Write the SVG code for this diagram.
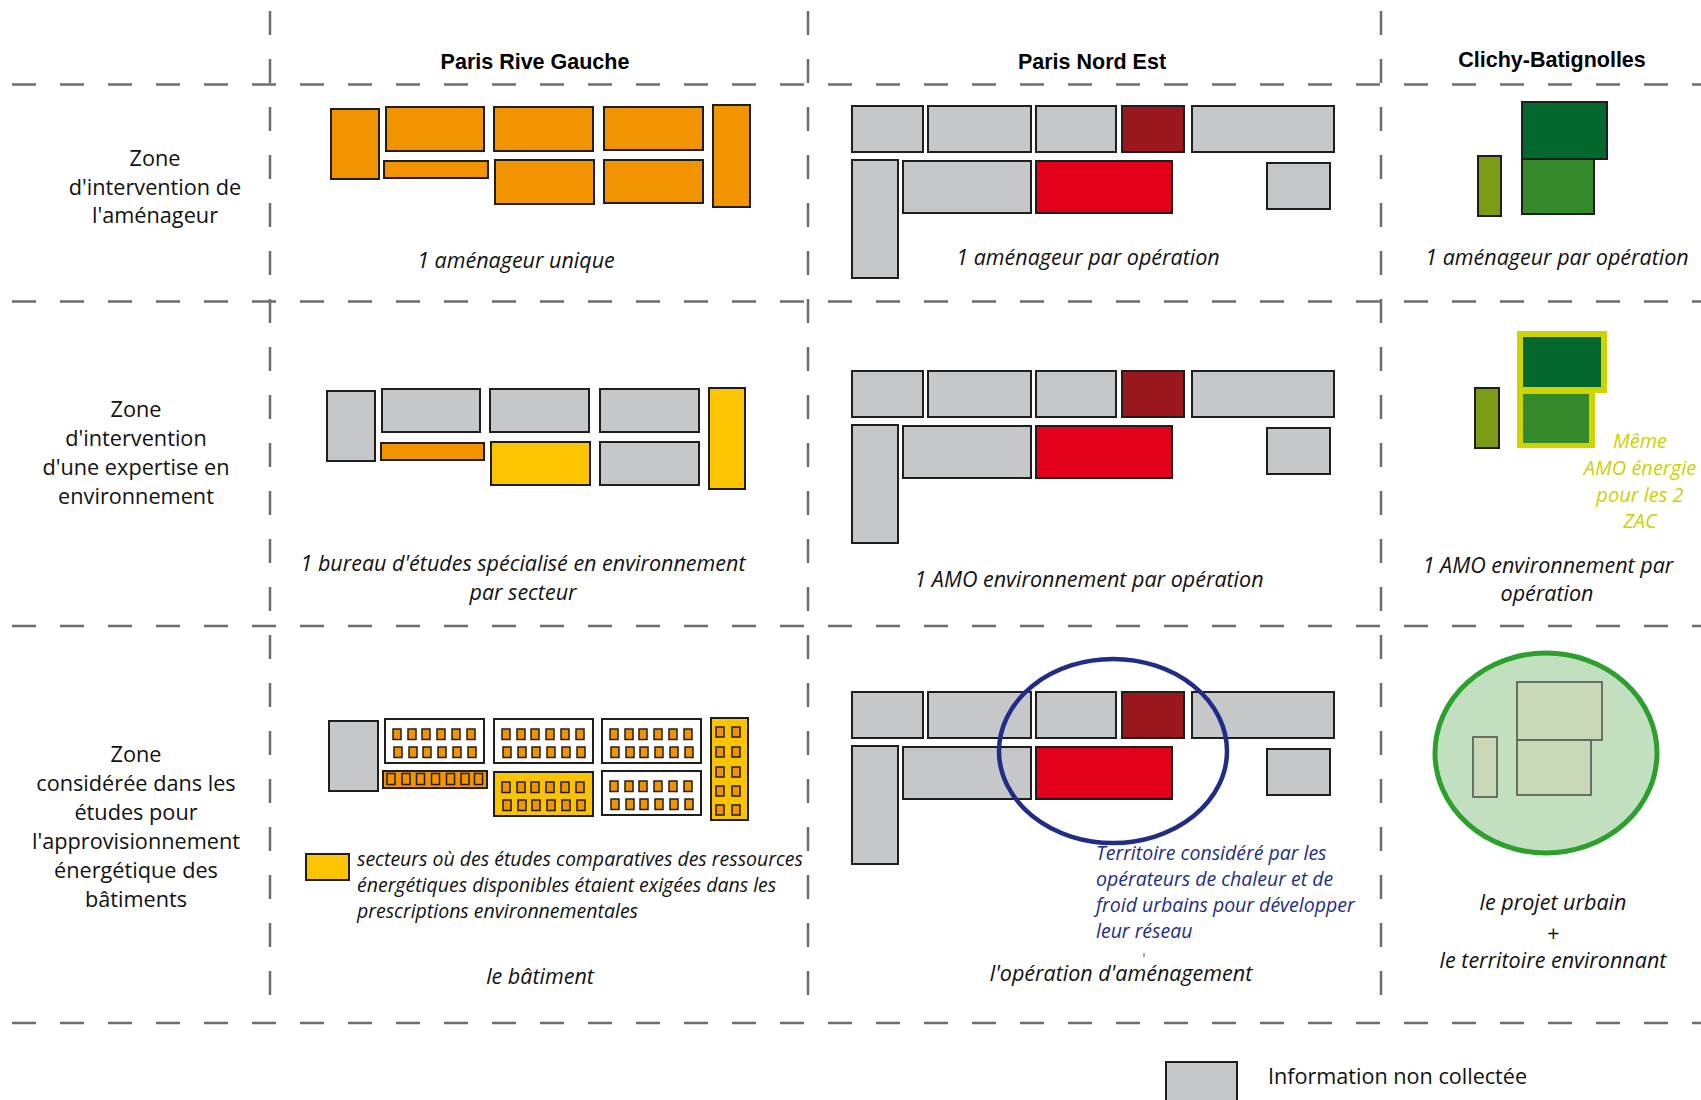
<svg xmlns="http://www.w3.org/2000/svg" width="1701" height="1100" viewBox="0 0 1701 1100">
<style>
.g{fill:none;stroke:#6e6e6e;stroke-width:2.5;stroke-dasharray:24 24}
.b{stroke:#1e1e1e;stroke-width:2}
.gr{fill:#c6c7c9}
.or{fill:#f29400}
.ye{fill:#fbc300}
.dr{fill:#9a171d}
.rd{fill:#e2001a}
.wh{fill:#ffffff}
.sq{fill:#f29400;stroke:#1e1e1e;stroke-width:1.5}
.dg{fill:#03682e}
.mg{fill:#348a2b}
.ol{fill:#7b9b15}
.h{font-family:"Liberation Sans",Arial,sans-serif;font-weight:bold;font-size:21.5px;fill:#000;text-anchor:middle}
.l{font-family:"Open Sans","Liberation Sans",sans-serif;font-size:21.7px;fill:#111;text-anchor:middle}
.i{font-family:"Open Sans","Liberation Sans",sans-serif;font-style:italic;font-size:21.5px;fill:#111;text-anchor:middle}
.il{font-family:"Open Sans","Liberation Sans",sans-serif;font-style:italic;font-size:19.5px;fill:#111}
.bl{font-family:"Open Sans","Liberation Sans",sans-serif;font-style:italic;font-size:19.5px;fill:#1f2d86}
.yl{font-family:"Open Sans","Liberation Sans",sans-serif;font-style:italic;font-size:20px;fill:#cdd100;text-anchor:middle}
.cl{fill:#c9d8b7;stroke:#5d665a;stroke-width:1.8}
</style>
<rect width="1701" height="1100" fill="#ffffff"/>
<g id="grid">
<line class="g" x1="12" y1="84.5" x2="1701" y2="84.5"/>
<line class="g" x1="12" y1="301.5" x2="1701" y2="301.5"/>
<line class="g" x1="12" y1="626" x2="1701" y2="626"/>
<line class="g" x1="12" y1="1023" x2="1701" y2="1023"/>
<line class="g" x1="270" y1="11" x2="270" y2="995"/>
<line class="g" x1="808" y1="11" x2="808" y2="995"/>
<line class="g" x1="1381" y1="11" x2="1381" y2="995"/>
</g>
<g id="headers">
<text class="h" x="535" y="69">Paris Rive Gauche</text>
<text class="h" x="1092" y="69">Paris Nord Est</text>
<text class="h" x="1552" y="67">Clichy-Batignolles</text>
</g>
<g id="row-labels">
<text class="l" x="155" y="166">Zone</text>
<text class="l" x="155" y="195">d'intervention de</text>
<text class="l" x="155" y="223">l'aménageur</text>
<text class="l" x="136" y="417">Zone</text>
<text class="l" x="136" y="446">d'intervention</text>
<text class="l" x="136" y="475">d'une expertise en</text>
<text class="l" x="136" y="504">environnement</text>
<text class="l" x="136" y="762">Zone</text>
<text class="l" x="136" y="791">considérée dans les</text>
<text class="l" x="136" y="820">études pour</text>
<text class="l" x="136" y="849">l'approvisionnement</text>
<text class="l" x="136" y="878">énergétique des</text>
<text class="l" x="136" y="907">bâtiments</text>
</g>
<g id="prg-amenageur">
<rect class="or b" x="331" y="109" width="48" height="70"/>
<rect class="or b" x="386" y="107" width="98" height="44"/>
<rect class="or b" x="494" y="107" width="99" height="44"/>
<rect class="or b" x="604" y="107" width="99" height="43"/>
<rect class="or b" x="713" y="105" width="37" height="102"/>
<rect class="or b" x="384" y="161" width="104" height="17"/>
<rect class="or b" x="495" y="160" width="99" height="44"/>
<rect class="or b" x="604" y="160" width="99" height="43"/>
<text class="i" x="516" y="268">1 aménageur unique</text>
</g>
<g id="pne-amenageur">
<rect class="gr b" x="852" y="106" width="71" height="46"/>
<rect class="gr b" x="928" y="106" width="103" height="46"/>
<rect class="gr b" x="1036" y="106" width="80" height="46"/>
<rect class="dr b" x="1122" y="106" width="62" height="46"/>
<rect class="gr b" x="1192" y="106" width="142" height="46"/>
<rect class="gr b" x="852" y="160" width="46" height="118"/>
<rect class="gr b" x="903" y="161" width="128" height="52"/>
<rect class="rd b" x="1036" y="161" width="136" height="52"/>
<rect class="gr b" x="1267" y="163" width="63" height="46"/>
<text class="i" x="1088" y="265">1 aménageur par opération</text>
</g>
<g id="cb-amenageur">
<rect class="dg b" x="1522" y="102" width="85" height="57"/>
<rect class="mg b" x="1522" y="159" width="72" height="55"/>
<rect class="ol b" x="1478" y="156" width="23" height="60"/>
<text class="i" x="1557" y="265">1 aménageur par opération</text>
</g>
<g id="prg-expertise">
<rect class="gr b" x="327" y="391" width="48" height="70"/>
<rect class="gr b" x="382" y="389" width="98" height="43"/>
<rect class="gr b" x="490" y="389" width="99" height="43"/>
<rect class="gr b" x="600" y="389" width="99" height="43"/>
<rect class="ye b" x="709" y="388" width="36" height="101"/>
<rect class="or b" x="381" y="443" width="103" height="17"/>
<rect class="ye b" x="491" y="442" width="99" height="43"/>
<rect class="gr b" x="600" y="442" width="99" height="43"/>
<text class="i" x="523" y="571">1 bureau d'études spécialisé en environnement</text>
<text class="i" x="523" y="600">par secteur</text>
</g>
<g id="pne-expertise" transform="translate(0,265)">
<rect class="gr b" x="852" y="106" width="71" height="46"/>
<rect class="gr b" x="928" y="106" width="103" height="46"/>
<rect class="gr b" x="1036" y="106" width="80" height="46"/>
<rect class="dr b" x="1122" y="106" width="62" height="46"/>
<rect class="gr b" x="1192" y="106" width="142" height="46"/>
<rect class="gr b" x="852" y="160" width="46" height="118"/>
<rect class="gr b" x="903" y="161" width="128" height="52"/>
<rect class="rd b" x="1036" y="161" width="136" height="52"/>
<rect class="gr b" x="1267" y="163" width="63" height="46"/>
<text class="i" x="1089" y="322">1 AMO environnement par opération</text>
</g>
<g id="cb-expertise">
<polygon points="1517,331 1607,331 1607,393 1595,393 1595,448 1517,448" fill="#cfd300"/>
<rect class="dg" x="1523" y="337" width="78" height="50"/>
<rect class="mg" x="1523" y="394" width="66" height="49"/>
<rect class="ol b" x="1475" y="388" width="24" height="60"/>
<text class="yl" x="1640" y="448">Même</text>
<text class="yl" x="1640" y="475">AMO énergie</text>
<text class="yl" x="1640" y="502">pour les 2</text>
<text class="yl" x="1640" y="528">ZAC</text>
<text class="i" x="1548" y="573">1 AMO environnement par</text>
<text class="i" x="1547" y="601">opération</text>
</g>
<g id="prg-energie">
<rect class="gr b" x="329" y="721" width="49" height="70"/>
<rect class="wh b" x="385" y="719" width="99" height="44"/>
<rect class="wh b" x="494" y="719" width="99" height="44"/>
<rect class="wh b" x="602" y="719" width="99" height="44"/>
<rect class="ye b" x="711" y="718" width="37" height="102"/>
<rect class="or b" x="383" y="771" width="104" height="17"/>
<rect class="ye b" x="494" y="772" width="99" height="44"/>
<rect class="wh b" x="602" y="771" width="99" height="44"/>
<g id="sq-a">
<rect class="sq" x="393" y="729" width="8" height="10.5"/><rect class="sq" x="408" y="729" width="8" height="10.5"/><rect class="sq" x="422" y="729" width="8" height="10.5"/><rect class="sq" x="437" y="729" width="8" height="10.5"/><rect class="sq" x="452" y="729" width="8" height="10.5"/><rect class="sq" x="467" y="729" width="8" height="10.5"/>
<rect class="sq" x="394" y="747" width="8" height="10.5"/><rect class="sq" x="409" y="747" width="8" height="10.5"/><rect class="sq" x="423" y="747" width="8" height="10.5"/><rect class="sq" x="438" y="747" width="8" height="10.5"/><rect class="sq" x="453" y="747" width="8" height="10.5"/><rect class="sq" x="468" y="747" width="8" height="10.5"/>
</g>
<use href="#sq-a" transform="translate(109,0)"/>
<use href="#sq-a" transform="translate(217,0)"/>
<use href="#sq-a" transform="translate(109,53)"/>
<use href="#sq-a" transform="translate(217,52)"/>
<rect class="sq" x="387" y="773.5" width="8" height="11"/><rect class="sq" x="402" y="773.5" width="8" height="11"/><rect class="sq" x="416.5" y="773.5" width="8" height="11"/><rect class="sq" x="431.5" y="773.5" width="8" height="11"/><rect class="sq" x="446.5" y="773.5" width="8" height="11"/><rect class="sq" x="461" y="773.5" width="8" height="11"/><rect class="sq" x="474.5" y="773.5" width="8" height="11"/>
<rect class="sq" x="716" y="727" width="8" height="10"/><rect class="sq" x="732" y="727" width="8" height="10"/>
<rect class="sq" x="716" y="747" width="8" height="10"/><rect class="sq" x="732" y="747" width="8" height="10"/>
<rect class="sq" x="716" y="767" width="8" height="10"/><rect class="sq" x="732" y="767" width="8" height="10"/>
<rect class="sq" x="716" y="786" width="8" height="10"/><rect class="sq" x="732" y="786" width="8" height="10"/>
<rect class="sq" x="716" y="805" width="8" height="10"/><rect class="sq" x="732" y="805" width="8" height="10"/>
<rect class="ye b" x="306" y="854" width="43" height="26"/>
<text class="il" x="357" y="866">secteurs où des études comparatives des ressources</text>
<text class="il" x="357" y="892">énergétiques disponibles étaient exigées dans les</text>
<text class="il" x="357" y="918">prescriptions environnementales</text>
<text class="i" x="540" y="984">le bâtiment</text>
</g>
<g id="pne-energie">
<g transform="translate(0,586)">
<rect class="gr b" x="852" y="106" width="71" height="46"/>
<rect class="gr b" x="928" y="106" width="103" height="46"/>
<rect class="gr b" x="1036" y="106" width="80" height="46"/>
<rect class="dr b" x="1122" y="106" width="62" height="46"/>
<rect class="gr b" x="1192" y="106" width="142" height="46"/>
<rect class="gr b" x="852" y="160" width="46" height="118"/>
<rect class="gr b" x="903" y="161" width="128" height="52"/>
<rect class="rd b" x="1036" y="161" width="136" height="52"/>
<rect class="gr b" x="1267" y="163" width="63" height="46"/>
</g>
<ellipse cx="1113" cy="751" rx="114" ry="92" fill="none" stroke="#1f2d86" stroke-width="4.5"/>
<text class="bl" x="1096" y="860">Territoire considéré par les</text>
<text class="bl" x="1096" y="886">opérateurs de chaleur et de</text>
<text class="bl" x="1096" y="912">froid urbains pour développer</text>
<text class="bl" x="1096" y="938">leur réseau</text>
<line x1="1144" y1="953" x2="1144" y2="957" stroke="#888" stroke-width="1.5"/>
<text class="i" x="1121" y="981">l'opération d'aménagement</text>
</g>
<g id="cb-energie">
<ellipse cx="1546" cy="753" rx="111" ry="100" fill="#c2dfc0" stroke="#2ba02d" stroke-width="5"/>
<rect class="cl" x="1517" y="682" width="85" height="58"/>
<rect class="cl" x="1517" y="740" width="74" height="55"/>
<rect class="cl" x="1473" y="737" width="24" height="60"/>
<text class="i" x="1553" y="910">le projet urbain</text>
<text class="i" x="1553" y="941">+</text>
<text class="i" x="1553" y="968">le territoire environnant</text>
</g>
<g id="legend">
<rect class="gr b" x="1166" y="1062" width="71" height="45"/>
<text x="1268" y="1084" font-family="'Open Sans','Liberation Sans',sans-serif" font-size="21.6px" fill="#111">Information non collectée</text>
</g>
</svg>
